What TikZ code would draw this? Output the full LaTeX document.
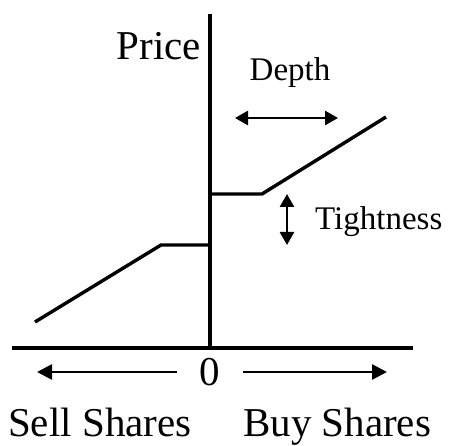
\documentclass[tikz,border=0pt]{standalone}
\usepackage{fontspec}
\setmainfont{Liberation Serif}
\usetikzlibrary{arrows.meta}
\begin{document}
\begin{tikzpicture}[x=1pt,y=-1pt,
  curve/.style={line width=3.4pt,line join=miter},
  axis/.style={line width=3.2pt},
  dim/.style={line width=2.6pt,{Triangle[length=13pt,width=14pt]}-{Triangle[length=13pt,width=14pt]}},
  onearrow/.style={line width=2.6pt,-{Triangle[length=15pt,width=15pt]}},
  big/.style={font=\fontsize{41}{41}\selectfont,inner sep=0pt},
  small/.style={font=\fontsize{33}{33}\selectfont,inner sep=0pt}]
\useasboundingbox (0,0) rectangle (452,446);
% axes
\coordinate (vtop) at (210,14);
\coordinate (vbot) at (210,348);
\coordinate (hl) at (12,348);
\coordinate (hr) at (413,348);
\draw[axis] (vtop) -- (vbot);
\draw[axis] (hl) -- (hr);
% sell side
\coordinate (s0) at (35,322);
\coordinate (s1) at (161,245);
\coordinate (s2) at (210,245);
\draw[curve] (s0) -- (s1) -- (s2);
% buy side
\coordinate (b0) at (210,194);
\coordinate (b1) at (262,194);
\coordinate (b2) at (386,117);
\draw[curve] (b0) -- (b1) -- (b2);
% depth
\coordinate (d0) at (235,118);
\coordinate (d1) at (338,118);
\draw[dim] (d0) -- (d1);
\node[small,anchor=base] (depth) at (290,81) {Depth};
% tightness
\coordinate (t0) at (287,194);
\coordinate (t1) at (287,245);
\draw[dim] (t0) -- (t1);
\node[small,anchor=base west] (tight) at (315,230) {Tightness};
% price
\node[big,anchor=base east] (price) at (201,60) {Price};
% zero and arrows
\node[big] (zero) at (210,372) {0};
\coordinate (la) at (37,372);
\coordinate (ra) at (387,372);
\draw[onearrow] (zero.west) ++(-23,0) coordinate (lt) (lt) -- (la);
\draw[onearrow] (zero.east) ++(23,0) coordinate (rt) (rt) -- (ra);
\node[big,anchor=base west] (sell) at (8,436) {Sell Shares};
\node[big,anchor=base west] (buy) at (243,436) {Buy Shares};
\end{tikzpicture}
\end{document}
